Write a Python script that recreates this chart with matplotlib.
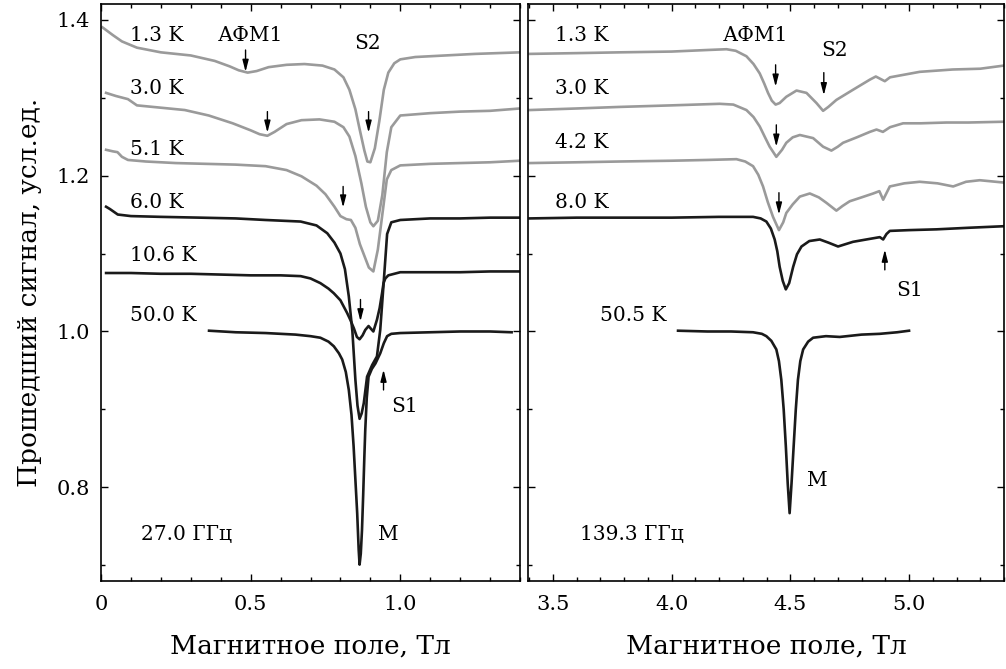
import matplotlib
matplotlib.use('Agg')
import matplotlib.pyplot as plt
from matplotlib.ticker import MultipleLocator, FuncFormatter

plt.rcParams['font.family'] = ['DejaVu Serif']

# ---------------- 27.0 GHz (left panel) ----------------
l13_x = [0.005, 0.04, 0.07, 0.12, 0.2, 0.3, 0.38, 0.43, 0.46, 0.49, 0.52, 0.56, 0.62, 0.68, 0.74, 0.78,
         0.81, 0.83, 0.85, 0.865, 0.88, 0.89, 0.90, 0.915, 0.93, 0.945, 0.96, 0.98, 1.0, 1.05, 1.15, 1.25, 1.4]
l13_y = [1.390, 1.380, 1.372, 1.364, 1.358, 1.354, 1.347, 1.340, 1.335, 1.332, 1.334, 1.339, 1.342, 1.343, 1.341, 1.336,
         1.326, 1.310, 1.285, 1.258, 1.232, 1.218, 1.217, 1.235, 1.270, 1.310, 1.332, 1.344, 1.349, 1.352, 1.354, 1.356, 1.358]

l30_x = [0.017, 0.05, 0.09, 0.12, 0.2, 0.28, 0.36, 0.44, 0.5, 0.53, 0.556, 0.58, 0.62, 0.67, 0.73, 0.78,
         0.81, 0.83, 0.85, 0.87, 0.885, 0.9, 0.91, 0.925, 0.94, 0.955, 0.97, 1.0, 1.1, 1.2, 1.3, 1.4]
l30_y = [1.306, 1.302, 1.298, 1.290, 1.287, 1.284, 1.277, 1.267, 1.258, 1.253, 1.251, 1.256, 1.266, 1.271, 1.272, 1.269,
         1.262, 1.250, 1.225, 1.190, 1.160, 1.140, 1.135, 1.142, 1.175, 1.230, 1.262, 1.277, 1.280, 1.282, 1.283, 1.286]

l51_x = [0.017, 0.04, 0.055, 0.07, 0.09, 0.15, 0.25, 0.35, 0.45, 0.55, 0.62, 0.67, 0.72, 0.75, 0.78, 0.80,
         0.82, 0.835, 0.85, 0.865, 0.88, 0.895, 0.91, 0.925, 0.94, 0.955, 0.97, 1.0, 1.1, 1.2, 1.3, 1.4]
l51_y = [1.233, 1.231, 1.230, 1.224, 1.220, 1.218, 1.216, 1.215, 1.214, 1.212, 1.207, 1.199, 1.187, 1.176, 1.160, 1.148,
         1.144, 1.143, 1.133, 1.112, 1.097, 1.082, 1.077, 1.105, 1.150, 1.195, 1.207, 1.213, 1.215, 1.216, 1.217, 1.219]

l60_x = [0.017, 0.03, 0.056, 0.1, 0.2, 0.33, 0.45, 0.55, 0.667, 0.72, 0.756, 0.78, 0.80, 0.815, 0.828, 0.84,
         0.85, 0.857, 0.864, 0.871, 0.878, 0.889, 0.906, 0.922, 0.933, 0.944, 0.956, 0.97, 1.0, 1.1, 1.2, 1.3, 1.4]
l60_y = [1.160, 1.157, 1.150, 1.148, 1.147, 1.146, 1.145, 1.143, 1.141, 1.136, 1.126, 1.114, 1.100, 1.080, 1.045, 1.000,
         0.938, 0.905, 0.888, 0.895, 0.908, 0.942, 0.957, 0.968, 1.002, 1.060, 1.125, 1.140, 1.143, 1.145, 1.145, 1.146, 1.146]

l106_x = [0.017, 0.1, 0.2, 0.3, 0.4, 0.5, 0.6, 0.667, 0.70, 0.733, 0.76, 0.778, 0.80, 0.811, 0.822, 0.833, 0.845, 0.855,
          0.864, 0.874, 0.883, 0.894, 0.903, 0.91, 0.922, 0.931, 0.939, 0.944, 0.95, 0.96, 0.98, 1.0, 1.1, 1.2, 1.3, 1.4]
l106_y = [1.075, 1.075, 1.074, 1.074, 1.073, 1.072, 1.072, 1.071, 1.068, 1.062, 1.055, 1.049, 1.040, 1.032, 1.024, 1.015, 1.004, 0.993,
          0.990, 0.995, 1.002, 1.007, 1.003, 1.000, 1.015, 1.030, 1.049, 1.062, 1.068, 1.072, 1.074, 1.076, 1.076, 1.076, 1.077, 1.077]

l500_x = [0.361, 0.45, 0.55, 0.65, 0.70, 0.733, 0.76, 0.778, 0.795, 0.806, 0.818, 0.828, 0.837, 0.844, 0.85, 0.856, 0.861, 0.864,
          0.868, 0.872, 0.876, 0.880, 0.883, 0.888, 0.894, 0.905, 0.917, 0.933, 0.945, 0.956, 0.97, 1.0, 1.1, 1.2, 1.3, 1.372]
l500_y = [1.001, 0.999, 0.998, 0.996, 0.994, 0.992, 0.987, 0.981, 0.972, 0.964, 0.948, 0.925, 0.893, 0.853, 0.810, 0.767, 0.720, 0.701,
          0.715, 0.745, 0.790, 0.840, 0.874, 0.915, 0.942, 0.952, 0.959, 0.972, 0.985, 0.994, 0.997, 0.998, 0.999, 1.000, 1.000, 0.999]

# ---------------- 139.3 GHz (right panel) ----------------
r13_x = [3.402, 3.6, 3.781, 4.0, 4.15, 4.231, 4.27, 4.315, 4.345, 4.371, 4.39, 4.406, 4.422, 4.438, 4.455, 4.483,
         4.526, 4.568, 4.61, 4.638, 4.66, 4.694, 4.764, 4.835, 4.86, 4.898, 4.92, 5.045, 5.184, 5.3, 5.399]
r13_y = [1.356, 1.357, 1.358, 1.359, 1.361, 1.362, 1.360, 1.353, 1.343, 1.331, 1.318, 1.306, 1.296, 1.291, 1.293, 1.301,
         1.309, 1.306, 1.293, 1.283, 1.288, 1.297, 1.310, 1.323, 1.327, 1.321, 1.326, 1.333, 1.336, 1.337, 1.341]

r30_x = [3.402, 3.6, 3.781, 4.0, 4.202, 4.26, 4.315, 4.345, 4.371, 4.395, 4.413, 4.441, 4.465, 4.483, 4.51, 4.54,
         4.596, 4.638, 4.673, 4.70, 4.722, 4.78, 4.835, 4.863, 4.89, 4.92, 4.975, 5.05, 5.158, 5.25, 5.399]
r30_y = [1.284, 1.286, 1.288, 1.290, 1.292, 1.291, 1.284, 1.275, 1.263, 1.248, 1.237, 1.224, 1.233, 1.242, 1.249, 1.252,
         1.248, 1.237, 1.232, 1.237, 1.242, 1.249, 1.256, 1.259, 1.256, 1.262, 1.267, 1.267, 1.268, 1.268, 1.269]

r42_x = [3.402, 3.6, 3.781, 4.0, 4.15, 4.273, 4.31, 4.343, 4.365, 4.385, 4.405, 4.427, 4.452, 4.47, 4.483, 4.51, 4.54, 4.582,
         4.62, 4.652, 4.694, 4.72, 4.75, 4.8, 4.849, 4.875, 4.891, 4.919, 4.98, 5.045, 5.12, 5.186, 5.24, 5.298, 5.399]
r42_y = [1.216, 1.217, 1.218, 1.219, 1.220, 1.221, 1.218, 1.212, 1.201, 1.186, 1.166, 1.147, 1.130, 1.140, 1.152, 1.163, 1.173, 1.177,
         1.172, 1.165, 1.155, 1.161, 1.167, 1.172, 1.177, 1.180, 1.169, 1.186, 1.190, 1.192, 1.190, 1.186, 1.192, 1.194, 1.191]

r80_x = [3.402, 3.6, 3.8, 4.0, 4.2, 4.343, 4.375, 4.399, 4.418, 4.434, 4.445, 4.455, 4.468, 4.481, 4.495, 4.512,
         4.528, 4.547, 4.58, 4.624, 4.66, 4.701, 4.764, 4.82, 4.877, 4.891, 4.905, 4.919, 5.0, 5.116, 5.25, 5.399]
r80_y = [1.145, 1.146, 1.146, 1.146, 1.147, 1.147, 1.145, 1.141, 1.132, 1.118, 1.103, 1.083, 1.065, 1.054, 1.062, 1.083,
         1.099, 1.109, 1.116, 1.118, 1.114, 1.109, 1.115, 1.118, 1.121, 1.118, 1.125, 1.129, 1.130, 1.131, 1.133, 1.135]

r505_x = [4.027, 4.15, 4.25, 4.343, 4.38, 4.399, 4.42, 4.441, 4.452, 4.462, 4.472, 4.481, 4.489, 4.497,
          4.505, 4.514, 4.523, 4.532, 4.542, 4.554, 4.575, 4.596, 4.65, 4.708, 4.8, 4.877, 4.95, 5.0]
r505_y = [1.001, 1.000, 1.000, 0.999, 0.997, 0.994, 0.988, 0.977, 0.962, 0.938, 0.900, 0.853, 0.805, 0.767,
          0.805, 0.853, 0.900, 0.938, 0.962, 0.977, 0.987, 0.992, 0.994, 0.993, 0.996, 0.997, 0.999, 1.001]

GRAY = '#9a9a9a'
BLACK = '#1a1a1a'
LW = 1.9
FS = 14.5

fig = plt.figure(figsize=(10.06, 6.69), dpi=100)
ax1 = fig.add_axes([101 / 1006, 88 / 669, 419 / 1006, 577 / 669])
ax2 = fig.add_axes([528 / 1006, 88 / 669, 476 / 1006, 577 / 669])

for x, y in [(l13_x, l13_y), (l30_x, l30_y), (l51_x, l51_y)]:
    ax1.plot(x, y, color=GRAY, lw=LW)
for x, y in [(l60_x, l60_y), (l106_x, l106_y), (l500_x, l500_y)]:
    ax1.plot(x, y, color=BLACK, lw=LW)
for x, y in [(r13_x, r13_y), (r30_x, r30_y), (r42_x, r42_y)]:
    ax2.plot(x, y, color=GRAY, lw=LW)
for x, y in [(r80_x, r80_y), (r505_x, r505_y)]:
    ax2.plot(x, y, color=BLACK, lw=LW)


def arrow(ax, x, y0, y1):
    ax.annotate('', xy=(x, y1), xytext=(x, y0),
                arrowprops=dict(arrowstyle='-|>,head_length=0.7,head_width=0.18',
                                color='k', lw=1.0, shrinkA=0, shrinkB=0, mutation_scale=10))


# left panel texts
for lab, y in [('1.3 K', 1.379), ('3.0 K', 1.311), ('5.1 K', 1.233),
               ('6.0 K', 1.166), ('10.6 K', 1.097), ('50.0 K', 1.020)]:
    ax1.text(0.098, y, lab, fontsize=FS, va='center', ha='left')
ax1.text(0.389, 1.379, 'АФМ1', fontsize=FS, va='center', ha='left')
ax1.text(0.845, 1.369, 'S2', fontsize=FS, va='center', ha='left')
ax1.text(0.969, 0.904, 'S1', fontsize=FS, va='center', ha='left')
ax1.text(0.925, 0.739, 'M', fontsize=FS, va='center', ha='left')
ax1.text(0.132, 0.739, '27.0 ГГц', fontsize=FS, va='center', ha='left')
arrow(ax1, 0.483, 1.361, 1.333)
arrow(ax1, 0.556, 1.282, 1.255)
arrow(ax1, 0.894, 1.282, 1.255)
arrow(ax1, 0.809, 1.186, 1.159)
arrow(ax1, 0.867, 1.041, 1.013)
arrow(ax1, 0.944, 0.925, 0.951)

# right panel texts
for lab, y in [('1.3 K', 1.379), ('3.0 K', 1.311), ('4.2 K', 1.243), ('8.0 K', 1.166)]:
    ax2.text(3.507, y, lab, fontsize=FS, va='center', ha='left')
ax2.text(3.697, 1.020, '50.5 K', fontsize=FS, va='center', ha='left')
ax2.text(4.214, 1.379, 'АФМ1', fontsize=FS, va='center', ha='left')
ax2.text(4.632, 1.360, 'S2', fontsize=FS, va='center', ha='left')
ax2.text(4.948, 1.053, 'S1', fontsize=FS, va='center', ha='left')
ax2.text(4.572, 0.809, 'M', fontsize=FS, va='center', ha='left')
ax2.text(3.612, 0.739, '139.3 ГГц', fontsize=FS, va='center', ha='left')
arrow(ax2, 4.438, 1.342, 1.314)
arrow(ax2, 4.641, 1.332, 1.303)
arrow(ax2, 4.441, 1.265, 1.237)
arrow(ax2, 4.452, 1.178, 1.150)
arrow(ax2, 4.898, 1.079, 1.105)

ax1.set_xlim(0, 1.4)
ax2.set_xlim(3.395, 5.4)
for ax in (ax1, ax2):
    ax.set_ylim(0.68, 1.42)
    ax.xaxis.set_major_locator(MultipleLocator(0.5))
    ax.xaxis.set_minor_locator(MultipleLocator(0.1))
    ax.yaxis.set_major_locator(MultipleLocator(0.2))
    ax.yaxis.set_minor_locator(MultipleLocator(0.1))
    ax.tick_params(which='both', direction='in', top=True, right=True, width=1.0)
    ax.tick_params(which='major', length=5, labelsize=15)
    ax.tick_params(which='minor', length=3)
    ax.tick_params(axis='x', pad=10)
    ax.tick_params(axis='y', pad=8)
    for s in ax.spines.values():
        s.set_linewidth(1.2)
    ax.set_xlabel('Магнитное поле, Тл', fontsize=19, labelpad=14)

ax1.xaxis.set_major_formatter(FuncFormatter(lambda v, p: '0' if abs(v) < 1e-9 else f'{v:.1f}'))
ax2.xaxis.set_major_formatter(FuncFormatter(lambda v, p: f'{v:.1f}'))
ax1.yaxis.set_major_formatter(FuncFormatter(lambda v, p: f'{v:.1f}'))
ax2.tick_params(axis='y', labelleft=False)
ax1.set_ylabel('Прошедший сигнал, усл.ед.', fontsize=19, labelpad=10)

fig.savefig('out.png', dpi=100)
